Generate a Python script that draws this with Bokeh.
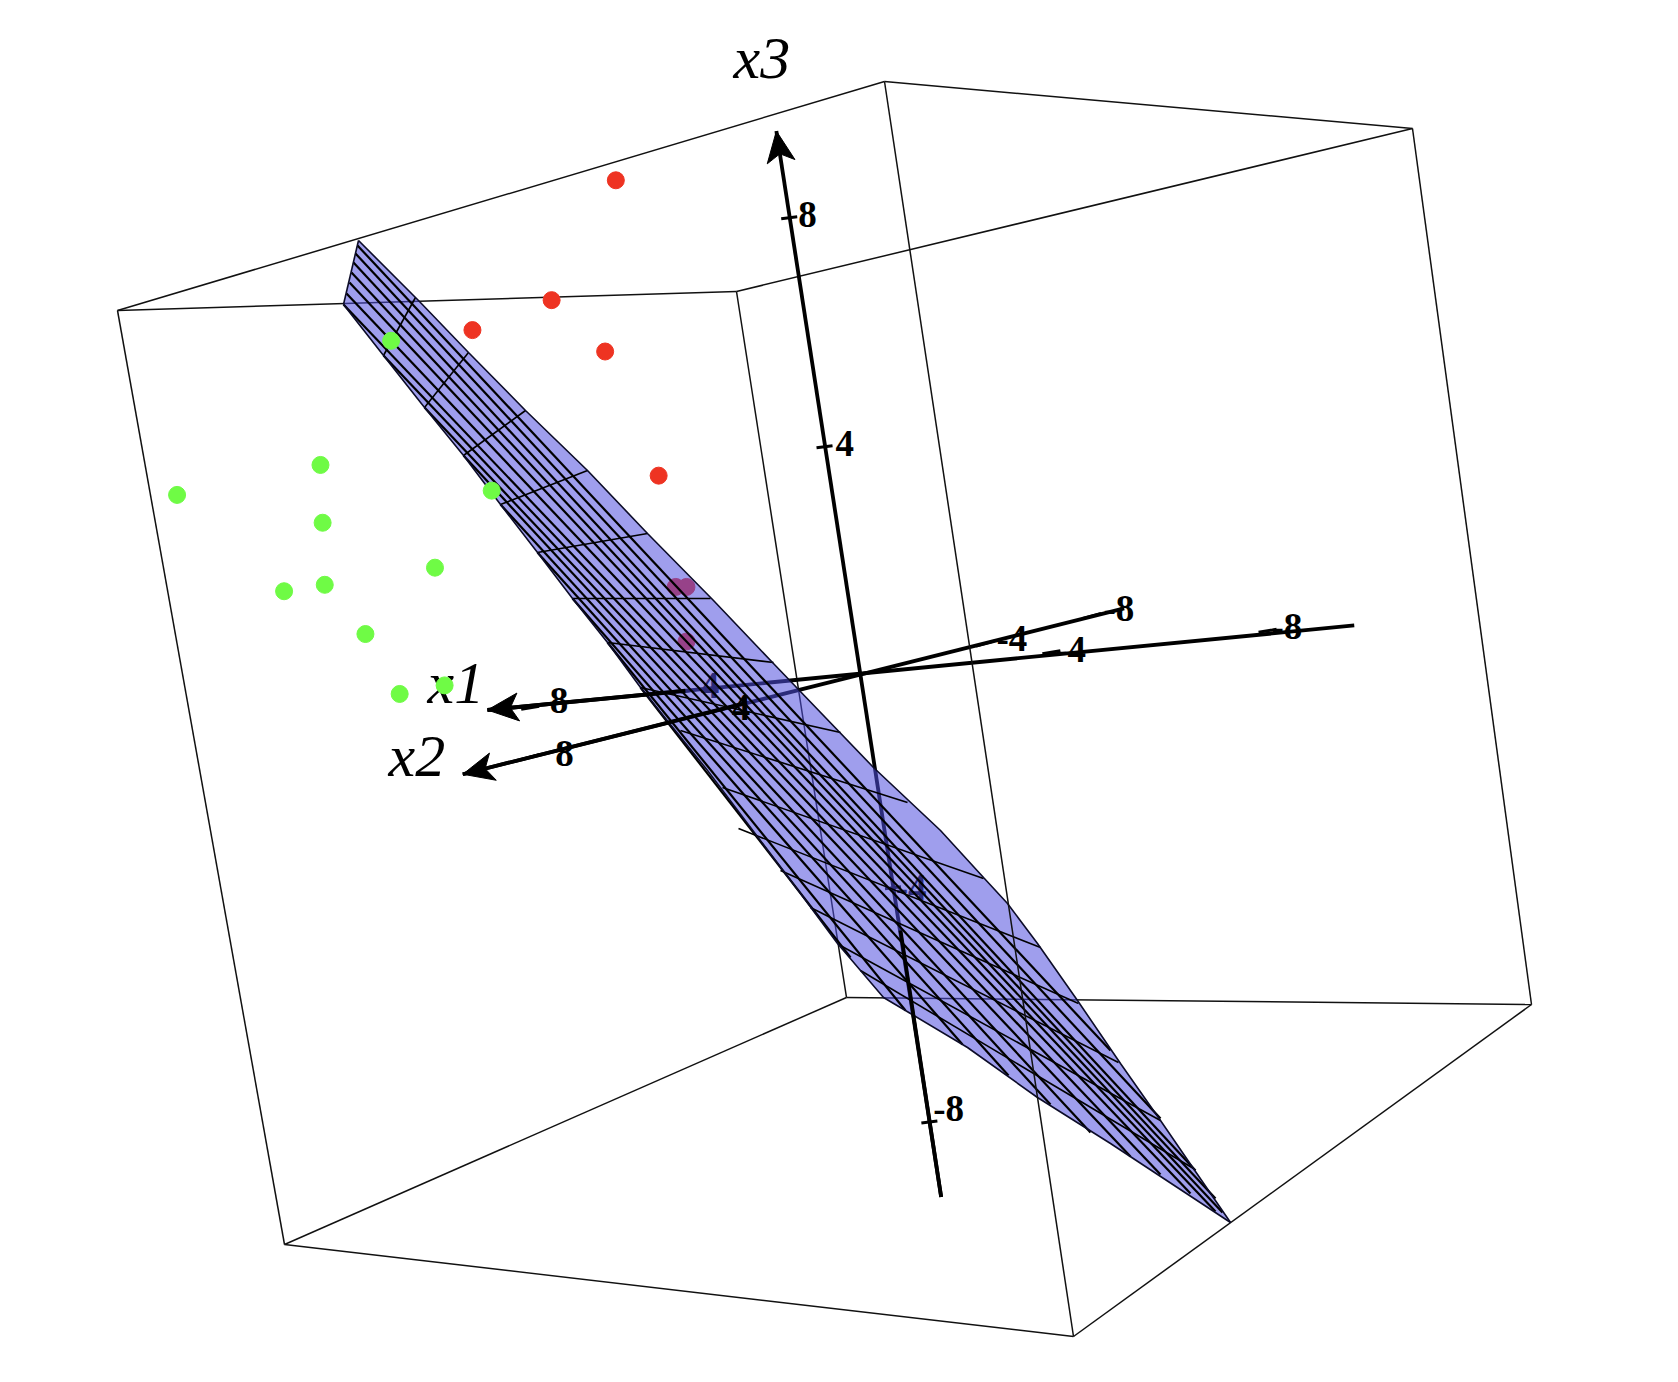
import numpy as np
from bokeh.plotting import figure
from bokeh.models import Range1d
from bokeh.core.properties import value
from bokeh.embed import file_html
from bokeh.resources import INLINE

# Values, in reference pixels
S = 1678 / 1568
box_names = ["A", "B", "C", "D", "E", "F", "G", "H"]
box_x = [117, 884, 1412, 1531, 1073, 284, 736, 846]
box_y = [310, 81, 128, 1004, 1336, 1244, 291, 997]
box_back = ["AB", "BC", "CG", "GA", "FH", "HD", "DE", "EF", "AF", "CD", "GH"]
box_front = ["BE"]

# surface outline
upper_x = [358, 418, 468, 525, 587, 647, 713, 772, 797, 873, 940, 983, 1007, 1037, 1077, 1120, 1160, 1230]
upper_y = [240, 300, 352, 410, 470, 533, 600, 662, 688, 767, 830, 877, 903, 943, 1000, 1063, 1120, 1222]
lower_x = [343, 383, 424, 463, 500, 537, 572, 607, 640, 707, 800, 837, 883, 910, 967, 1037, 1110, 1230]
lower_y = [304, 355, 407, 455, 504, 552, 598, 642, 687, 770, 893, 943, 997, 1013, 1047, 1097, 1143, 1222]

# long mesh lines
long_x0 = [357, 355, 353, 351, 349, 346, 343, 383, 424, 463, 500, 537, 572, 607, 640]
long_y0 = [245, 253, 262, 272, 282, 293, 304, 355, 407, 455, 504, 552, 598, 642, 687]
long_x1 = [1110, 1160, 1195, 1215, 1222, 1215, 1190, 1160, 1130, 1090, 1050, 1008, 962, 905, 850]
long_y1 = [1050, 1118, 1170, 1198, 1212, 1211, 1193, 1174, 1156, 1132, 1104, 1075, 1044, 1010, 957]

# cross mesh lines
cross_x0 = [383, 424, 463, 500, 537, 572, 607, 640, 680, 722, 738, 780, 810, 838, 860]
cross_y0 = [355, 407, 455, 504, 552, 598, 642, 687, 730, 787, 828, 870, 907, 944, 970]
cross_x1 = [415, 468, 525, 587, 647, 710, 773, 840, 907, 983, 1040, 1078, 1118, 1160, 1193]
cross_y1 = [297, 352, 410, 470, 533, 598, 662, 732, 802, 878, 947, 1003, 1062, 1120, 1168]

red_x = [575, 515, 441, 565, 615, 631, 641, 641]
red_y = [168, 280, 308, 328, 444, 548, 548, 599]
green_x = [299, 165, 301, 406, 303, 265, 341, 373]
green_y = [434, 462, 488, 530, 546, 552, 592, 648]
green_front_x = [365, 459, 415]
green_front_y = [318, 458, 640]

axis_start_x = [1265, 1050, 879]
axis_start_y = [584, 568, 1118]
axis_tip_x = [455, 432, 725]
axis_tip_y = [663, 723, 122]
# where each axis comes out of the surface
front_from_x = [640, 694, 841]
front_from_y = [645, 657, 869]
front_to_x = [455, 432, 879]
front_to_y = [663, 723, 1118]

tick_axis = [2, 2, 2, 0, 0, 0, 1, 1, 1, 1]
tick_x = [737, 770, 868, 495, 982, 1184, 495, 668, 920, 1020]
tick_y = [203, 417, 1048, 661, 609, 589, 707, 664, 601, 575]
tick_labels = ["8", "4", "-8", "8", "-4", "-8", "8", "4", "-4", "-8"]
label_x = [754, 789, 886, 522, 1000, 1202, 527, 692, 945, 1045]
label_y = [200, 414, 1035, 654, 606, 585, 704, 661, 596, 568]

behind_labels = ["4", "-4"]
behind_axis = [0, 2]
behind_tick_x = [644, 834]
behind_tick_y = [645, 829]
behind_x = [663, 851]
behind_y = [640, 829]

title_names = ["x1", "x2", "x3"]
title_x = [427, 388, 733]
title_y = [703, 776, 78]

BLACK = "#000000"
FILL = "#504ede"
RED = "#ee3322"
GREEN = "#6ffb45"
FONT = value("Liberation Serif")

p = figure(width=1662, height=1366, x_range=Range1d(0, 1662), y_range=Range1d(1366, 0),
           output_backend="svg", toolbar_location=None, min_border=0,
           x_axis_type=None, y_axis_type=None, outline_line_color=None,
           background_fill_color="white", border_fill_color="white")
p.grid.visible = False

corner = dict(zip(box_names, zip(box_x, box_y)))
def edges(names):
    return ([[corner[n[0]][0], corner[n[1]][0]] for n in names],
            [[corner[n[0]][1], corner[n[1]][1]] for n in names])

sx = lambda v: S * np.asarray(v, dtype=float)
tick_dir = {0: (9, -1.5), 1: (9, -2.5), 2: (8, -1)}

def ticks(xv, yv, axes):
    x = sx(xv); y = sx(yv)
    dx = np.array([tick_dir[a][0] for a in axes])
    dy = np.array([tick_dir[a][1] for a in axes])
    p.segment(x - dx, y - dy, x + dx, y + dy, line_color=BLACK, line_width=3)

# back of the box
xs, ys = edges(box_back)
p.multi_line(xs, ys, line_color="#111111", line_width=1.5)

# points behind the surface
p.scatter(sx(red_x), sx(red_y), size=17, color=RED)
p.scatter(sx(green_x), sx(green_y), size=17, color=GREEN)

# axes: full length under the surface
for i in range(3):
    p.line(sx([axis_start_x[i], axis_tip_x[i]]), sx([axis_start_y[i], axis_tip_y[i]]),
           line_color=BLACK, line_width=3.8)

# tick labels behind the surface
ticks(behind_tick_x, behind_tick_y, behind_axis)
p.text(sx(behind_x), sx(behind_y), text=behind_labels, text_font=FONT, text_font_style="bold",
       text_font_size="37px", text_color=BLACK, text_align="center", text_baseline="middle")

# surface
ux, uy, lx, ly = [np.asarray(a, dtype=float) for a in (upper_x, upper_y, lower_x, lower_y)]
p.patch(np.r_[lx, ux[::-1]], np.r_[ly, uy[::-1]], fill_color=FILL, fill_alpha=0.55, line_color=None)

# mesh
p.segment(long_x0, long_y0, long_x1, long_y1, line_color=BLACK, line_width=2.2)
p.segment(cross_x0, cross_y0, cross_x1, cross_y1, line_color=BLACK, line_width=1.6)
p.line(lx, ly, line_color="#0c0c28", line_width=1.6)
p.line(ux, uy, line_color="#0c0c28", line_width=1.6)
p.line([ux[0], lx[0]], [uy[0], ly[0]], line_color="#0c0c28", line_width=1.6)

# front parts of the axes
for i in range(3):
    p.line(sx([front_from_x[i], front_to_x[i]]), sx([front_from_y[i], front_to_y[i]]),
           line_color=BLACK, line_width=3.8)

# arrow heads, worked out from each axis's direction
hx, hy = [], []
for i in range(3):
    tip = S * np.array([axis_tip_x[i], axis_tip_y[i]], dtype=float)
    st = S * np.array([axis_start_x[i], axis_start_y[i]], dtype=float)
    d = (st - tip) / np.linalg.norm(st - tip)
    nn = np.array([-d[1], d[0]])
    w1 = tip + 31 * d + 14 * nn
    w2 = tip + 31 * d - 14 * nn
    notch = tip + 23 * d
    hx.append([tip[0], w1[0], notch[0], w2[0]])
    hy.append([tip[1], w1[1], notch[1], w2[1]])
p.patches(hx, hy, fill_color=BLACK, line_color=BLACK, line_width=1)

# ticks and labels
ticks(tick_x, tick_y, tick_axis)
p.text(sx(label_x), sx(label_y), text=tick_labels, text_font=FONT, text_font_style="bold",
       text_font_size="37px", text_color=BLACK, text_align="center", text_baseline="middle")

# box edge in front
xs, ys = edges(box_front)
p.multi_line(xs, ys, line_color="#111111", line_width=1.5)

p.text(title_x, title_y, text=title_names, text_font=FONT, text_font_style="italic",
       text_font_size="60px", text_color=BLACK, text_align="left", text_baseline="alphabetic",
       y_offset=-21)

# points in front of the surface and of the x1 title
p.scatter(sx(green_front_x), sx(green_front_y), size=17, color=GREEN)

open("out.html", "w").write(file_html(p, INLINE))
